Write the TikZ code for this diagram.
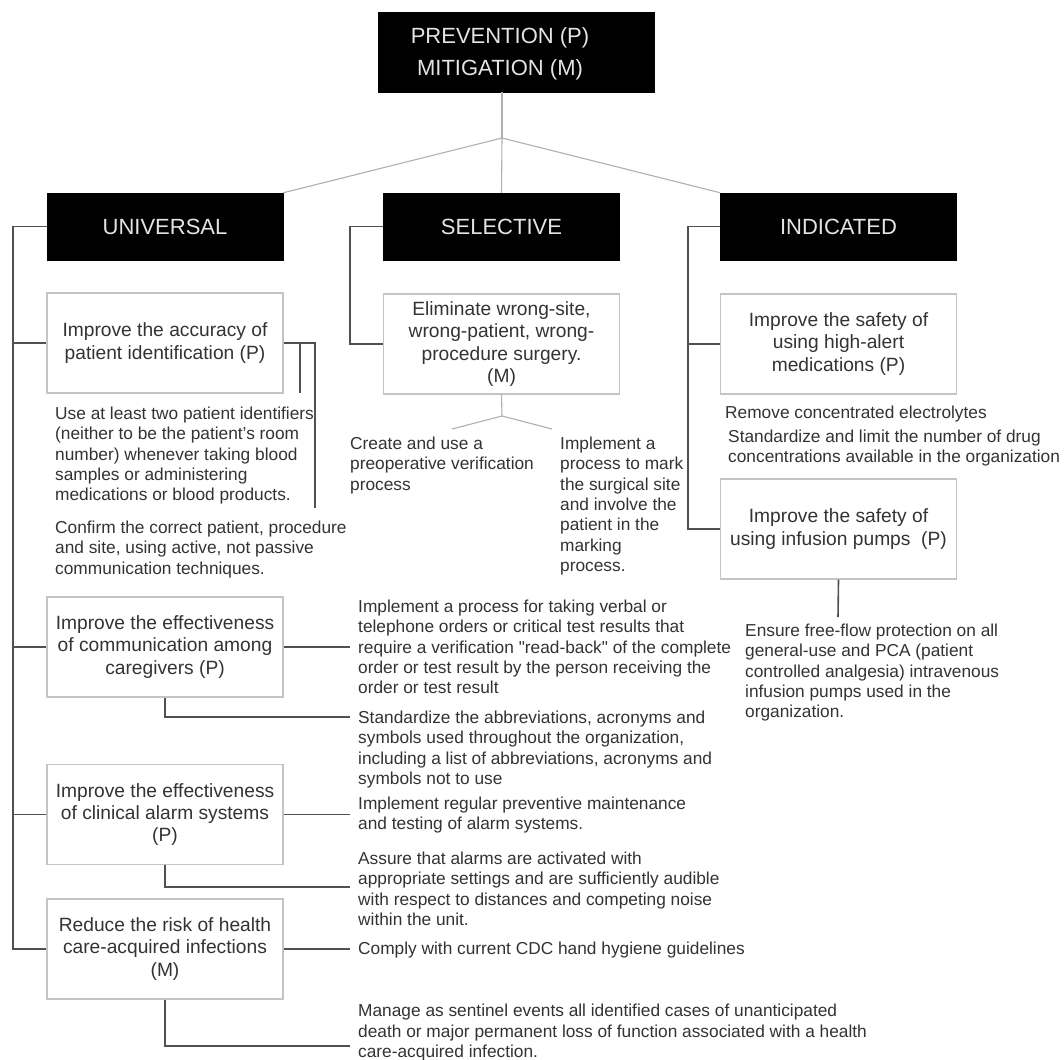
\documentclass[tikz,border=0pt]{standalone}
\usepackage{fontspec}
\setmainfont{Liberation Sans}
\definecolor{ink}{HTML}{333333}
\definecolor{hdrtext}{HTML}{E4E4E4}
\definecolor{boxline}{HTML}{C4C4C4}
\definecolor{linegray}{HTML}{505050}
\definecolor{forkgray}{HTML}{B0B0B0}
\begin{document}
\begin{tikzpicture}[x=1pt,y=-1pt,
  hdr/.style={fill=black, draw=black, minimum width=236pt, minimum height=67pt, inner sep=0pt,
    text=hdrtext, font=\fontsize{22}{26}\selectfont},
  goal/.style={draw=boxline, line width=1.4pt, fill=white, minimum width=236pt, minimum height=100pt,
    inner sep=0pt, align=center, text=ink, font=\fontsize{19.2}{22.3}\selectfont},
  note/.style={anchor=north west, inner sep=0pt, align=left, text=ink, font=\fontsize{17.3}{20.3}\selectfont},
  conn/.style={draw=linegray, line width=1.6pt},
  fork/.style={draw=forkgray, line width=1.1pt},
]
\useasboundingbox[fill=white] (0,0) rectangle (1064,1059);

% ---------- top level ----------
\node[hdr, minimum width=276pt, minimum height=80pt] (top) at (516,52) {};
\node[inner sep=0pt, text=hdrtext, align=center, font=\fontsize{22}{32}\selectfont] (toptext) at (500,54)
  {PREVENTION (P)\\MITIGATION (M)};

\node[hdr] (uni) at (165,226.5) {UNIVERSAL};
\node[hdr] (sel) at (501.5,226.5) {SELECTIVE};
\node[hdr] (ind) at (838.5,226.5) {INDICATED};

\coordinate (fork) at (502,138);
\draw[fork] (top.south -| fork) -- (fork);
\draw[fork] (fork) -- (uni.north east);
\draw[fork] (fork) -- (sel.north);
\draw[fork] (fork) -- (ind.north west);

% ---------- universal column ----------
\node[goal] (b1) at (165,343) {Improve the accuracy of\\patient identification (P)};
\node[goal] (b2) at (165,647) {Improve the effectiveness\\of communication among\\caregivers (P)};
\node[goal] (b3) at (165,814.5) {Improve the effectiveness\\of clinical alarm systems\\(P)};
\node[goal] (b4) at (165,949) {Reduce the risk of health\\care-acquired infections\\(M)};

\coordinate (us) at (13,0);
\coordinate (rx) at (350,0);
\draw[conn] (uni.west) -| (us |- b4.west) -- (b4.west);
\draw[conn] (b1.west) -- (b1.west -| us);
\draw[conn] (b2.west) -- (b2.west -| us);
\draw[conn] (b3.west) -- (b3.west -| us);

\node[note] (t1a) at (55,406.8) {Use at least two patient identifiers\\(neither to be the patient's room\\number) whenever taking blood\\samples or administering\\medications or blood products.};
\node[note] (t1b) at (55,520.8) {Confirm the correct patient, procedure\\and site, using active, not passive\\communication techniques.};
\coordinate (c1a) at (300,393);
\coordinate (c1b) at (315,508);
\draw[conn] (b1.east) -| (c1b);
\draw[conn] (b1.east -| c1a) -- (c1a);

\node[note] (t2a) at (358,599.8) {Implement a process for taking verbal or\\telephone orders or critical test results that\\require a verification \textquotedbl read-back\textquotedbl\ of the complete\\order or test result by the person receiving the\\order or test result};
\node[note] (t2b) at (358,710.8) {Standardize the abbreviations, acronyms and\\symbols used throughout the organization,\\including a list of abbreviations, acronyms and\\symbols not to use};
\node[note] (t3a) at (358,796.8) {Implement regular preventive maintenance\\and testing of alarm systems.};
\node[note] (t3b) at (358,851.8) {Assure that alarms are activated with\\appropriate settings and are sufficiently audible\\with respect to distances and competing noise\\within the unit.};
\node[note] (t4a) at (358,941.8) {Comply with current CDC hand hygiene guidelines};
\node[note] (t4b) at (358,1004) {Manage as sentinel events all identified cases of unanticipated\\death or major permanent loss of function associated with a health\\care-acquired infection.};

\coordinate (e2b) at (350,717);
\coordinate (e3b) at (350,887);
\coordinate (e4b) at (350,1046);
\draw[conn] (b2.east) -- (b2.east -| rx);
\draw[conn] (b2.south) |- (e2b);
\draw[conn] (b3.east) -- (b3.east -| rx);
\draw[conn] (b3.south) |- (e3b);
\draw[conn] (b4.east) -- (b4.east -| rx);
\draw[conn] (b4.south) |- (e4b);

% ---------- selective column ----------
\node[goal] (elim) at (501.5,344) {Eliminate wrong-site,\\wrong-patient, wrong-\\procedure surgery.\\(M)};
\coordinate (ss) at (350,0);
\draw[conn] (sel.west) -| (ss |- elim.west) -- (elim.west);

\coordinate (fork2) at (502,416);
\coordinate (f2l) at (452,429);
\coordinate (f2r) at (552,429);
\draw[fork] (elim.south) -- (fork2);
\draw[fork] (f2l) -- (fork2) -- (f2r);

\node[note] (ts1) at (350,436.8) {Create and use a\\preoperative verification\\process};
\node[note] (ts2) at (560,436.8) {Implement a\\process to mark\\the surgical site\\and involve the\\patient in the\\marking\\process.};

% ---------- indicated column ----------
\node[goal] (b5) at (838.5,344) {Improve the safety of\\using high-alert\\medications (P)};
\node[goal] (b6) at (838.5,529) {Improve the safety of\\using infusion pumps\ \ (P)};
\coordinate (is) at (688,0);
\draw[conn] (ind.west) -| (is |- b6.west) -- (b6.west);
\draw[conn] (b5.west) -- (b5.west -| is);

\node[note] (ti1) at (725,405.8) {Remove concentrated electrolytes};
\node[note] (ti2) at (728,429.8) {Standardize and limit the number of drug\\concentrations available in the organization};
\node[note] (ti3) at (745,623.8) {Ensure free-flow protection on all\\general-use and PCA (patient\\controlled analgesia) intravenous\\infusion pumps used in the\\organization.};
\coordinate (e6) at (838,617);
\draw[conn] (b6.south) -- (e6);
\end{tikzpicture}
\end{document}
